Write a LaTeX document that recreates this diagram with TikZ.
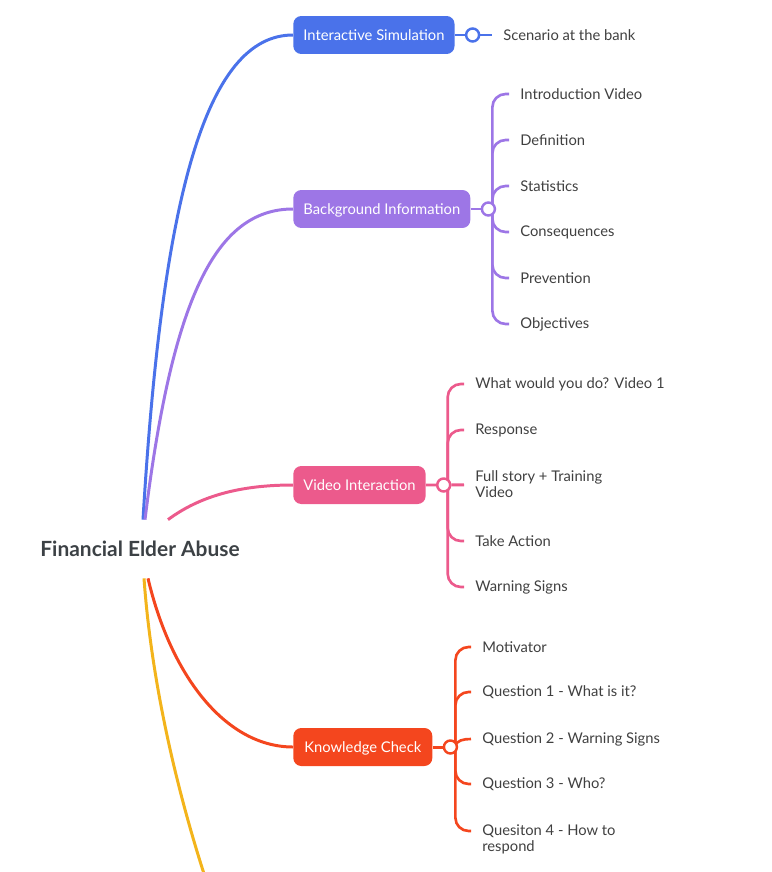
\documentclass[tikz,border=0pt]{standalone}
\usepackage{fontspec}
\setmainfont{Lato}
\usetikzlibrary{positioning,backgrounds}
\definecolor{isblue}{HTML}{4A72EA}
\definecolor{bipurple}{HTML}{9D76E6}
\definecolor{vipink}{HTML}{EC5A8C}
\definecolor{kcred}{HTML}{F4461E}
\definecolor{ylw}{HTML}{F3B41B}
\definecolor{rootgray}{HTML}{3C4145}
\definecolor{leafgray}{HTML}{404040}
\begin{document}
\begin{tikzpicture}[
        x=0.02cm, y=-0.02cm,
        every node/.style={font=\fontsize{8.4}{9.2}\selectfont},
        root/.style={font=\fontsize{11.9}{13}\selectfont\bfseries, text=rootgray, minimum height=1.16cm, inner sep=0},
        topic/.style={fill=#1, text=white, rounded corners=4.5pt, minimum height=0.76cm, inner xsep=0.2cm,
            text height=1.55ex, text depth=0.3ex, anchor=west},
        hub/.style={circle, draw=#1, fill=white, line width=1.4pt, minimum size=0.26cm, inner sep=0},
        leaf/.style={anchor=west, text=leafgray, inner xsep=0.22cm, inner ysep=1pt, align=left},
        branch/.style={draw=#1, line width=1.7pt},
        twig/.style={draw=#1, line width=1.5pt, rounded corners=7.5pt}
    ]
    \useasboundingbox (0,0) rectangle (771,872);
    \node[root] (fea) at (140,549) {Financial Elder Abuse};

    \node[topic=isblue, minimum width=3.2cm] (is) at (293,35) {Interactive Simulation};
    \node[hub=isblue, right=0.2cm of is] (ish) {};
    \node[leaf] (scen) at (492,35) {Scenario at the bank};
    \draw[branch=isblue] ([xshift=0.06cm]fea.north) .. controls (162,200) and (205,35) .. (is.west);
    \draw[branch=isblue] (is) -- (ish) -- (scen);

    \node[topic=bipurple, minimum width=3.54cm] (bi) at (293,209) {Background Information};
    \node[hub=bipurple, right=0.2cm of bi] (bih) {};
    \coordinate (bis) at ([xshift=0.08cm]bih.center);
    \foreach \name/\txt/\y in {intro/Introduction Video/94, defn/Definition/140, stat/Statistics/186,
            cons/Consequences/232, prev/Prevention/278, obj/Objectives/324}
        \node[leaf] (\name) at (509,\y) {\txt};
    \draw[branch=bipurple] ([xshift=0.1cm]fea.north) .. controls (172,300) and (215,209) .. (bi.west);
    \draw[branch=bipurple] (bi) -- (bih);
    \begin{scope}[on background layer]
        \foreach \c in {intro,defn,stat,cons,prev,obj}
            \draw[twig=bipurple] (bis) |- (\c.west);
    \end{scope}

    \node[topic=vipink, minimum width=2.64cm] (vi) at (293,485) {Video Interaction};
    \node[hub=vipink, right=0.2cm of vi] (vih) {};
    \coordinate (vis) at ([xshift=0.08cm]vih.center);
    \foreach \name/\txt/\y in {wwyd/What would you do? Video 1/384, resp/Response/430,
            full/Full story + Training\\Video/484, act/Take Action/541, warn/Warning Signs/587}
        \node[leaf] (\name) at (464,\y) {\txt};
    \draw[branch=vipink] ([xshift=0.56cm]fea.north) .. controls (200,496) and (240,485) .. (vi.west);
    \draw[branch=vipink] (vi) -- (vih) -- (full);
    \begin{scope}[on background layer]
        \foreach \c in {wwyd,resp,act,warn}
            \draw[twig=vipink] (vis) |- (\c.west);
    \end{scope}

    \node[topic=kcred, minimum width=2.78cm] (kc) at (293,747) {Knowledge Check};
    \node[hub=kcred, right=0.2cm of kc] (kch) {};
    \coordinate (kcs) at ([xshift=0.1cm]kch.center);
    \foreach \name/\txt/\y in {motv/Motivator/647, qone/Question 1 - What is it?/692,
            qtwo/Question 2 - Warning Signs/739, qthree/Question 3 - Who?/784,
            qfour/Quesiton 4 - How to\\respond/839}
        \node[leaf] (\name) at (471,\y) {\txt};
    \draw[branch=kcred] ([xshift=0.16cm]fea.south) .. controls (172,680) and (228,747) .. (kc.west);
    \draw[branch=kcred] (kc) -- (kch);
    \begin{scope}[on background layer]
        \foreach \c in {motv,qone,qthree}
            \draw[twig=kcred] (kcs) |- (\c.west);
        \draw[twig=kcred] (kcs) to[out=90, in=180] (qtwo.west);
        \draw[twig=kcred] (kcs) |- ([yshift=0.16cm]qfour.west);
    \end{scope}

    \coordinate (yend) at (206,880);
    \draw[branch=ylw] ([xshift=0.08cm]fea.south) .. controls (152,690) and (180,800) .. (yend);
\end{tikzpicture}
\end{document}
